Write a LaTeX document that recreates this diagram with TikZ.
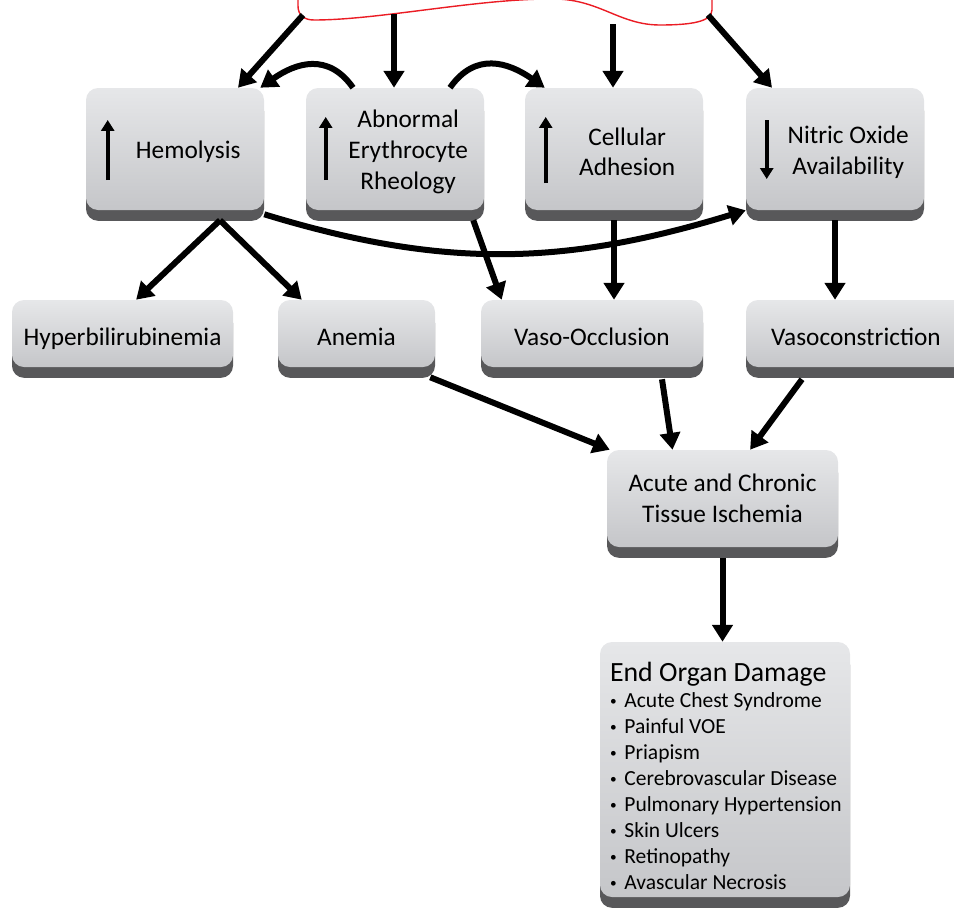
\documentclass[tikz,border=0pt]{standalone}
\usepackage{fontspec}
\setmainfont{Carlito}
\usepackage{xcolor}
\usepackage{graphicx}
\usepackage{tikz}
\usetikzlibrary{shapes}
\usetikzlibrary{calc}
\usetikzlibrary{arrows.meta}
\usetikzlibrary{shadows}
\definecolor{boxtop}{RGB}{230,231,233}
\definecolor{boxbottom}{RGB}{197,198,201}
\definecolor{boxbase}{RGB}{88,88,90}
\definecolor{waveline}{RGB}{235,28,36}
\newcommand{\organ}[1]{\makebox[0.36cm][l]{\raisebox{0.09em}{\scalebox{0.62}{\textbullet}}}#1}
\tikzset{ stage_box/.style = {rectangle, rounded corners=0.3cm, top color=boxtop, bottom color=boxbottom, drop shadow={shadow xshift=0pt, shadow yshift=-0.27cm, fill=boxbase, opacity=1}, inner sep=0pt, align=center, font=\fontsize{18}{22}\selectfont} }
\tikzset{ outcome_box/.style = {stage_box, minimum height=1.675cm, text height=0.6cm, text depth=0.02cm} }
\tikzset{ stage_text/.style = {align=center, inner sep=0pt, xshift=0.33cm, yshift=-0.07cm, font=\fontsize{18}{22}\selectfont} }
\tikzset{ organ_list/.style = {anchor=north west, align=left, inner sep=0pt, xshift=0.25cm, yshift=-0.5cm, font=\fontsize{15.3}{18.5}\selectfont} }
\tikzset{ leads_to/.style = {-{Triangle[length=0.42cm,width=0.5cm]}, line width=0.15cm} }
\tikzset{ trend/.style = {-{Triangle[length=0.27cm,width=0.32cm]}, line width=0.11cm} }

\begin{document}
\begin{tikzpicture}
            \useasboundingbox (0,0) rectangle (23.85,-22.775);
            \draw[waveline, line width=0.035cm, fill=white] (7.45,0.5) -- (7.45,-0.15) .. controls (7.45,-0.375) and (7.6,-0.5) .. (7.85,-0.5) .. controls (9.5,-0.5) and (12,0.05) .. (13.9,0.025) .. controls (15,0) and (15.5,-0.625) .. (16.5,-0.625) .. controls (17.25,-0.625) and (17.8,-0.55) .. (17.8,-0.25) -- (17.8,0.5);
            \coordinate (S1) at (7.575,-0.375);
            \coordinate (S2) at (9.85,-0.35);
            \coordinate (S3) at (15.325,-0.6);
            \coordinate (S4) at (17.7,-0.375);
                    \node [style=stage_box, minimum width=4.45cm, minimum height=3.05cm, label={[stage_text]center:Hemolysis}] (Hem) at (4.375, -3.725) {};
                    \node [style=stage_box, minimum width=4.45cm, minimum height=3.05cm, label={[stage_text]center:{Abnormal\\Erythrocyte\\Rheology}}] (Rheo) at (9.875, -3.725) {};
                    \node [style=stage_box, minimum width=4.45cm, minimum height=3.05cm, label={[stage_text]center:{Cellular\\Adhesion}}] (Adh) at (15.35, -3.725) {};
                    \node [style=stage_box, minimum width=4.45cm, minimum height=3.05cm, label={[stage_text]center:{Nitric Oxide\\Availability}}] (NO) at (20.875, -3.725) {};
                    \node [style=outcome_box, minimum width=5.525cm] (Hyp) at (3.0625, -8.3375) {Hyperbilirubinemia};
                    \node [style=outcome_box, minimum width=3.925cm] (Anem) at (8.9125, -8.3375) {Anemia};
                    \node [style=outcome_box, minimum width=5.55cm] (VOcc) at (14.8, -8.3375) {Vaso-Occlusion};
                    \node [style=outcome_box, minimum width=5.5cm] (VCon) at (21.4, -8.3375) {Vasoconstriction};
                    \node [style=stage_box, minimum width=5.775cm, minimum height=2.425cm] (Isch) at (18.0625, -12.4625) {Acute and Chronic\\Tissue Ischemia};
                    \node [style=stage_box, minimum width=6.25cm, minimum height=6.375cm, label={[organ_list]north west:{{\fontsize{19.8}{18.5}\selectfont End Organ Damage}\\\organ{Acute Chest Syndrome}\\\organ{Painful VOE}\\\organ{Priapism}\\\organ{Cerebrovascular Disease}\\\organ{Pulmonary Hypertension}\\\organ{Skin Ulcers}\\\organ{Retinopathy}\\\organ{Avascular Necrosis}}}] (EOD) at (18.125, -19.2375) {};
                    \draw[trend] ([xshift=0.55cm,yshift=-0.775cm]Hem.west) to ([xshift=0.55cm,yshift=0.725cm]Hem.west);
                    \draw[trend] ([xshift=0.5cm,yshift=-0.775cm]Rheo.west) to ([xshift=0.5cm,yshift=0.8cm]Rheo.west);
                    \draw[trend] ([xshift=0.525cm,yshift=-0.85cm]Adh.west) to ([xshift=0.525cm,yshift=0.8cm]Adh.west);
                    \draw[trend] ([xshift=0.525cm,yshift=0.725cm]NO.west) to ([xshift=0.525cm,yshift=-0.75cm]NO.west);
                    \draw[leads_to] (S1) to ([xshift=1.575cm]Hem.north);
                    \draw[leads_to] (S2) to (S2 |- Rheo.north);
                    \draw[leads_to] (S3) to (S3 |- Adh.north);
                    \draw[leads_to] (S4) to ([xshift=-1.575cm]NO.north);
                    \draw[leads_to] ([xshift=-1.05cm]Rheo.north) to[out=125, in=35, looseness=1.2] ([xshift=-0.1cm]Hem.north east);
                    \draw[leads_to] ([xshift=1.375cm]Rheo.north) to[out=55, in=145, looseness=1.2] ([xshift=0.5cm]Adh.north west);
                    \draw[leads_to] ([yshift=-0.1cm]Hem.south east) to[out=-17, in=197] (NO.south west);
                    \draw[leads_to] ([xshift=1.125cm,yshift=-0.25cm]Hem.south) to ([xshift=0.34cm]Hyp.north);
                    \draw[leads_to] ([xshift=1.125cm,yshift=-0.25cm]Hem.south) to ([xshift=0.6cm]Anem.north west);
                    \draw[leads_to] ([xshift=-0.275cm,yshift=-0.25cm]Rheo.south east) to ([xshift=0.525cm]VOcc.north west);
                    \draw[leads_to] ([yshift=-0.25cm]Adh.south) to (Adh.south |- VOcc.north);
                    \draw[leads_to] ([yshift=-0.25cm]NO.south) to (NO.south |- VCon.north);
                    \draw[leads_to] ([xshift=-0.125cm,yshift=-0.25cm]Anem.south east) to ([xshift=0.075cm]Isch.north west);
                    \draw[leads_to] ([xshift=1.75cm,yshift=-0.3cm]VOcc.south) to ([xshift=-1.25cm]Isch.north);
                    \draw[leads_to] ([xshift=-1.35cm,yshift=-0.3cm]VCon.south) to ([xshift=0.69cm]Isch.north);
                    \draw[leads_to] ([yshift=-0.27cm]Isch.south) to (Isch.south |- EOD.north);
            \end{tikzpicture}
\end{document}
